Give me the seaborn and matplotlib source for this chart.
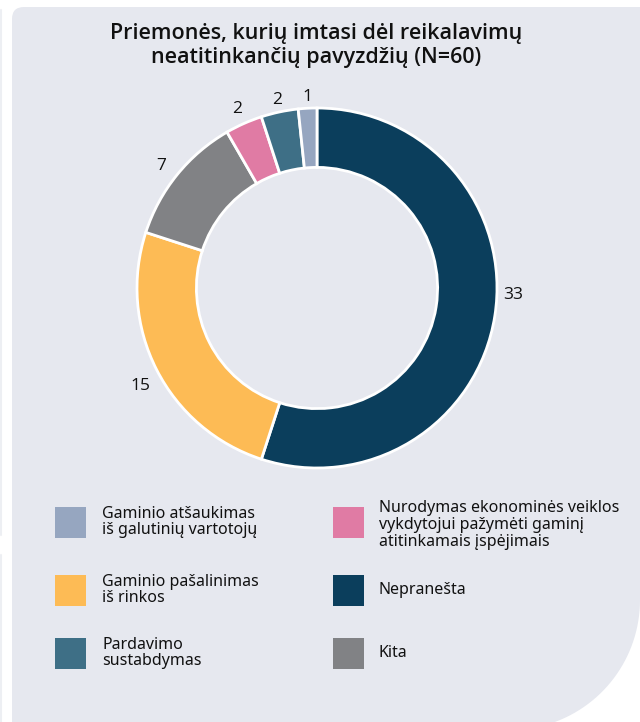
import matplotlib
matplotlib.use("Agg")
import matplotlib.pyplot as plt
import seaborn as sns
from matplotlib.patches import Rectangle, PathPatch
from matplotlib.path import Path
from matplotlib.lines import Line2D
import numpy as np

sns.set_theme(style="white")
plt.rcParams['font.family'] = ['Noto Sans', 'DejaVu Sans']

# Data (clockwise from 12 o'clock)
categories = ["Nepranešta", "Gaminio pašalinimas\niš rinkos", "Kita",
              "Nurodymas ekonominės veiklos\nvykdytojui pažymėti gaminį\natitinkamais įspėjimais",
              "Pardavimo\nsustabdymas", "Gaminio atšaukimas\niš galutinių vartotojų"]
values = [33, 15, 7, 2, 2, 1]
colors = ["#0B3E5C", "#FDBB55", "#818285", "#E07BA4", "#3E6F86", "#96A6C0"]
title = "Priemonės, kurių imtasi dėl reikalavimų\nneatitinkančių pavyzdžių (N=60)"
label_angle_nudge = [-7, -2, -1, 0, 0, 0]  # degrees, label placement tweak
label_dist = [1.09, 1.12, 1.10, 1.09, 1.07, 1.06]

# legend layout order: (category index, column, row)
legend_order = [(5, 0, 0), (3, 1, 0), (1, 0, 1), (0, 1, 1), (4, 0, 2), (2, 1, 2)]

W, H = 640, 722
fig = plt.figure(figsize=(W / 100, H / 100), dpi=100)
fig.patch.set_facecolor("white")

def fx(x):
    return x / W

def fy(y):
    return 1 - y / H

bg = "#E6E8EF"
# background panel: small rounded top-left corner, large rounded bottom-right corner
r1 = 12
R = 130
cx, cy = 510, 600
verts = []
codes = []
verts.append((12, 740)); codes.append(Path.MOVETO)
verts.append((12, 7 + r1)); codes.append(Path.LINETO)
verts.append((12, 7)); codes.append(Path.CURVE3)
verts.append((12 + r1, 7)); codes.append(Path.CURVE3)
verts.append((660, 7)); codes.append(Path.LINETO)
verts.append((660, cy)); codes.append(Path.LINETO)
verts.append((cx + R, cy)); codes.append(Path.LINETO)
for t in np.linspace(0, np.pi / 2, 40)[1:]:
    verts.append((cx + R * np.cos(t), cy + R * np.sin(t))); codes.append(Path.LINETO)
verts.append((12, 740)); codes.append(Path.LINETO)
verts.append((12, 740)); codes.append(Path.CLOSEPOLY)
verts_f = [(fx(x), fy(y)) for x, y in verts]
panel = PathPatch(Path(verts_f, codes), facecolor=bg, edgecolor="none",
                  transform=fig.transFigure, zorder=0)
fig.add_artist(panel)
# faint edge lines at far left
for y0, y1 in [(10, 535), (555, 722)]:
    fig.add_artist(Line2D([fx(1), fx(1)], [fy(y0), fy(y1)], color="#EDEFF3",
                          lw=1.5, transform=fig.transFigure, zorder=0))

# Donut
pcx, pcy, rad = 317, 288, 180
ax = fig.add_axes([fx(pcx - rad), fy(pcy + rad), 2 * rad / W, 2 * rad / H])
ax.set_facecolor("none")
wedges, _ = ax.pie(values, colors=colors, startangle=90, counterclock=False,
                   wedgeprops=dict(width=0.33, edgecolor="white", linewidth=2))
for w, v, nudge, d in zip(wedges, values, label_angle_nudge, label_dist):
    mid = np.deg2rad((w.theta1 + w.theta2) / 2 - nudge)
    ax.text(d * np.cos(mid), d * np.sin(mid), str(v), ha="center",
            va="center", fontsize=12.5, color="#111111",
            family=["Open Sans", "DejaVu Sans"], fontweight=500)
ax.set_xlim(-1, 1)
ax.set_ylim(-1, 1)
ax.set_aspect("equal")
ax.axis("off")

fig.text(fx(316), fy(45.5), title, ha="center", va="center", fontsize=15.5,
         family=["Open Sans", "DejaVu Sans"], fontweight=600, color="#111111",
         linespacing=1.2)

# Legend (manual)
col_x = [55, 333]
text_x = [102, 379]
row_y = [522, 590, 653]
sq = 31
for idx, col, row in legend_order:
    x0 = col_x[col]
    yc = row_y[row]
    fig.add_artist(Rectangle((fx(x0), fy(yc + sq / 2)), sq / W, sq / H,
                             transform=fig.transFigure, facecolor=colors[idx],
                             edgecolor="none", zorder=2))
    ty = yc + (3 if categories[idx].count("\n") == 2 else 0)
    fig.text(fx(text_x[col]), fy(ty), categories[idx], ha="left", va="center",
             fontsize=11.5, color="#111111", linespacing=1.08)

fig.savefig("out.png", dpi=100, facecolor=fig.get_facecolor())
